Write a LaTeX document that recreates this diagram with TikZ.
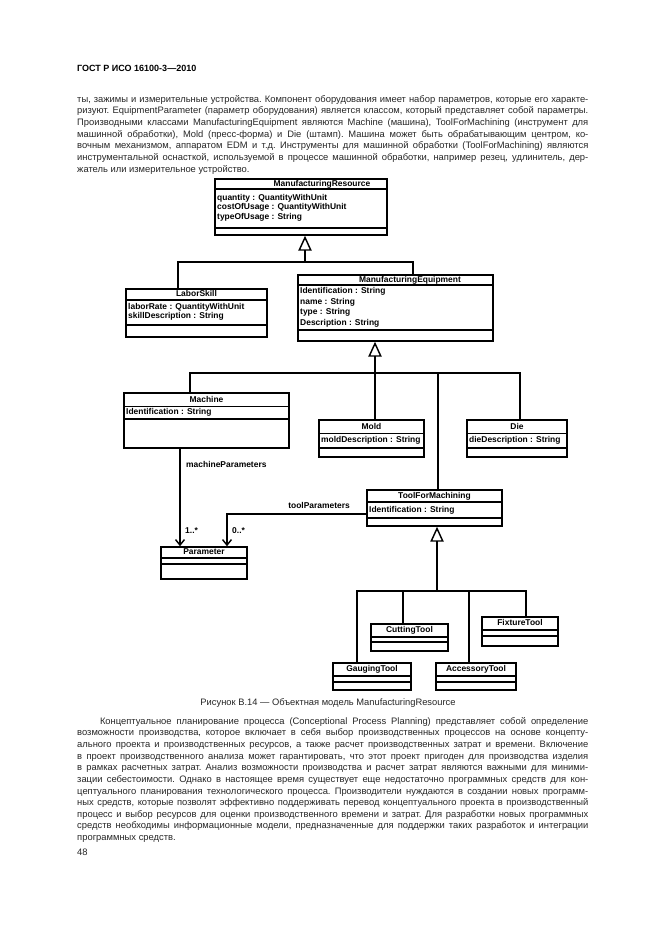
\documentclass[tikz,border=0pt]{standalone}
\usepackage{fontspec}
\setmainfont{Liberation Sans}
\usetikzlibrary{arrows.meta,fit}

\newcommand\umlfont{\fontsize{7.6}{8.5}\selectfont\bfseries}
\newcommand\txtline[1]{\par\frenchspacing\spaceskip=0pt\xspaceskip=0pt\hbox to 460pt{#1}}

\tikzset{
  classbox/.style={draw,line width=1.3pt,inner sep=0pt},
  classsep/.style={line width=1.1pt},
  classname/.style={font=\umlfont,inner sep=0pt,text height=5.5pt,text depth=1.5pt},
  classattr/.style={font=\umlfont,inner sep=0pt,anchor=north west,align=left},
  rolelabel/.style={font=\umlfont,inner sep=0pt,text height=5.5pt,text depth=1.5pt},
  inherit/.style={line width=1.3pt,arrows={Triangle[open,length=13.5pt,width=12pt]-}},
  genline/.style={line width=1.3pt},
  assoc/.style={line width=1.3pt,arrows={-Straight Barb[length=5pt,width=8pt]}},
  bodytext/.style={font=\fontsize{8.45}{10.45}\selectfont,inner sep=0pt,anchor=north west,
    text width=460pt,align=justify,text=black!85},
}

\begin{document}
\begin{tikzpicture}[x=0.9pt,y=-0.9pt]
  \fill[white] (0,0) rectangle (661,935);
  \useasboundingbox (0,0) rectangle (661,935);

  % page header and text above the figure
  \node[anchor=west,inner sep=0pt,font=\fontsize{8.1}{10}\selectfont\bfseries] (gost) at (77,68) {ГОСТ Р ИСО 16100-3—2010};
  \node[bodytext] (para1) at (77,90.5) {%
    \txtline{ты, зажимы и измерительные устройства. Компонент оборудования имеет набор параметров, которые его характе-}%
    \txtline{ризуют. EquipmentParameter (параметр оборудования) является классом, который представляет собой параметры.}%
    \txtline{Производными классами ManufacturingEquipment являются Machine (машина), ToolForMachining (инструмент для}%
    \txtline{машинной обработки), Mold (пресс-форма) и Die (штамп). Машина может быть обрабатывающим центром, ко-}%
    \txtline{вочным механизмом, аппаратом EDM и т.д. Инструменты для машинной обработки (ToolForMachining) являются}%
    \txtline{инструментальной оснасткой, используемой в процессе машинной обработки, например резец, удлинитель, дер-}%
    \par\hbox{жатель или измерительное устройство.}};

  % ManufacturingResource
  \node[classbox,fit={(215,179) (387,235)}] (mr) {};
  \node[classname] (mr-name) at (322,184) {ManufacturingResource};
  \draw[classsep] (mr.west |- 0,189) -- (mr.east |- 0,189);
  \node[classattr] (mr-attr) at (217,194) {quantity : QuantityWithUnit\\costOfUsage : QuantityWithUnit\\typeOfUsage : String};
  \draw[classsep] (mr.west |- 0,228) -- (mr.east |- 0,228);

  % LaborSkill
  \node[classbox,fit={(126,289) (267,337)}] (ls) {};
  \node[classname] (ls-name) at (196.5,294.5) {LaborSkill};
  \draw[classsep] (ls.west |- 0,300) -- (ls.east |- 0,300);
  \node[classattr] (ls-attr) at (128,303) {laborRate : QuantityWithUnit\\skillDescription : String};
  \draw[classsep] (ls.west |- 0,325) -- (ls.east |- 0,325);

  % ManufacturingEquipment
  \node[classbox,fit={(298,275) (493,341)}] (me) {};
  \node[classname] (me-name) at (410,280) {ManufacturingEquipment};
  \draw[classsep] (me.west |- 0,285) -- (me.east |- 0,285);
  \node[classattr,font=\fontsize{7.6}{9.4}\selectfont\bfseries] (me-attr) at (300,287.5) {Identification : String\\name : String\\type : String\\Description : String};
  \draw[classsep] (me.west |- 0,330) -- (me.east |- 0,330);

  % Machine
  \node[classbox,fit={(124,393) (289,448)}] (machine) {};
  \node[classname] (machine-name) at (206.5,400) {Machine};
  \draw[classsep] (machine.west |- 0,406.5) -- (machine.east |- 0,406.5);
  \node[classattr] (machine-attr) at (126,408.5) {Identification : String};
  \draw[classsep] (machine.west |- 0,419) -- (machine.east |- 0,419);

  % Mold
  \node[classbox,fit={(319,420) (424,457)}] (mold) {};
  \node[classname] (mold-name) at (371.5,427) {Mold};
  \draw[classsep] (mold.west |- 0,433.5) -- (mold.east |- 0,433.5);
  \node[classattr] (mold-attr) at (321,436.5) {moldDescription : String};
  \draw[classsep] (mold.west |- 0,448) -- (mold.east |- 0,448);

  % Die
  \node[classbox,fit={(467,420) (567,457)}] (die) {};
  \node[classname] (die-name) at (517,427) {Die};
  \draw[classsep] (die.west |- 0,433.5) -- (die.east |- 0,433.5);
  \node[classattr] (die-attr) at (469,436.5) {dieDescription : String};
  \draw[classsep] (die.west |- 0,448) -- (die.east |- 0,448);

  % ToolForMachining
  \node[classbox,fit={(367,490) (502,526)}] (tfm) {};
  \node[classname] (tfm-name) at (434.5,496) {ToolForMachining};
  \draw[classsep] (tfm.west |- 0,502) -- (tfm.east |- 0,502);
  \node[classattr] (tfm-attr) at (369,506) {Identification : String};
  \draw[classsep] (tfm.west |- 0,518) -- (tfm.east |- 0,518);

  % Parameter
  \node[classbox,fit={(161,547) (247,579)}] (param) {};
  \node[classname] (param-name) at (204,552.5) {Parameter};
  \draw[classsep] (param.west |- 0,558) -- (param.east |- 0,558);
  \draw[classsep] (param.west |- 0,564) -- (param.east |- 0,564);

  % tools
  \node[classbox,fit={(371,624) (448,651)}] (cutting) {};
  \node[classname] (cutting-name) at (409.5,630.5) {CuttingTool};
  \draw[classsep] (cutting.west |- 0,637) -- (cutting.east |- 0,637);
  \draw[classsep] (cutting.west |- 0,642) -- (cutting.east |- 0,642);

  \node[classbox,fit={(482,617) (558,646)}] (fixture) {};
  \node[classname] (fixture-name) at (520,623.5) {FixtureTool};
  \draw[classsep] (fixture.west |- 0,630) -- (fixture.east |- 0,630);
  \draw[classsep] (fixture.west |- 0,636) -- (fixture.east |- 0,636);

  \node[classbox,fit={(333,663) (411,690)}] (gauging) {};
  \node[classname] (gauging-name) at (372,669.5) {GaugingTool};
  \draw[classsep] (gauging.west |- 0,676) -- (gauging.east |- 0,676);
  \draw[classsep] (gauging.west |- 0,682) -- (gauging.east |- 0,682);

  \node[classbox,fit={(436,663) (516,690)}] (accessory) {};
  \node[classname] (accessory-name) at (476,669.5) {AccessoryTool};
  \draw[classsep] (accessory.west |- 0,676) -- (accessory.east |- 0,676);
  \draw[classsep] (accessory.west |- 0,682) -- (accessory.east |- 0,682);

  % generalisations
  \coordinate (gen1) at (305,262);
  \coordinate (bar1-l) at (178,262);
  \coordinate (bar1-r) at (413,262);
  \draw[inherit] (gen1 |- mr.south) -- (gen1);
  \draw[genline] (bar1-l |- ls.north) -- (bar1-l) -- (bar1-r) -- (bar1-r |- me.north);

  \coordinate (gen2) at (375,373);
  \coordinate (bar2-l) at (190,373);
  \coordinate (bar2-r) at (520,373);
  \coordinate (bar2-tfm) at (438,373);
  \draw[inherit] (gen2 |- me.south) -- (gen2 |- mold.north);
  \draw[genline] (bar2-l |- machine.north) -- (bar2-l) -- (bar2-r) -- (bar2-r |- die.north);
  \draw[genline] (bar2-tfm) -- (bar2-tfm |- tfm.north);

  \coordinate (gen3) at (437,591);
  \coordinate (bar3-l) at (357,591);
  \coordinate (bar3-r) at (526,591);
  \coordinate (bar3-ct) at (403,591);
  \coordinate (bar3-at) at (469,591);
  \draw[inherit] (gen3 |- tfm.south) -- (gen3);
  \draw[genline] (bar3-l |- gauging.north) -- (bar3-l) -- (bar3-r) -- (bar3-r |- fixture.north);
  \draw[genline] (bar3-ct) -- (bar3-ct |- cutting.north);
  \draw[genline] (bar3-at) -- (bar3-at |- accessory.north);

  % associations
  \coordinate (mp) at (180,500);
  \coordinate (tp) at (227,514);
  \draw[assoc] (mp |- machine.south) -- (mp |- param.north);
  \draw[assoc] (tfm.west |- tp) -- (tp) -- (tp |- param.north);
  \node[rolelabel,anchor=west] (mp-label) at (186,465) {machineParameters};
  \node[rolelabel,anchor=east] (tp-label) at (350,506) {toolParameters};
  \node[rolelabel,anchor=west] (mp-mult) at (185,531) {1..*};
  \node[rolelabel,anchor=west] (tp-mult) at (232,531) {0..*};

  % caption and text below
  \node[inner sep=0pt,font=\fontsize{8.4}{10}\selectfont,text=black!85] (caption) at (328,703) {Рисунок В.14 — Объектная модель ManufacturingResource};
  \node[bodytext] (para2) at (77,712.5) {%
    \txtline{\hspace*{20.5pt}Концептуальное планирование процесса (Conceptional Process Planning) представляет собой определение}%
    \txtline{возможности производства, которое включает в себя выбор производственных процессов на основе концепту-}%
    \txtline{ального проекта и производственных ресурсов, а также расчет производственных затрат и времени. Включение}%
    \txtline{в проект производственного анализа может гарантировать, что этот проект пригоден для производства изделия}%
    \txtline{в рамках расчетных затрат. Анализ возможности производства и расчет затрат являются важными для миними-}%
    \txtline{зации себестоимости. Однако в настоящее время существует еще недостаточно программных средств для кон-}%
    \txtline{цептуального планирования технологического процесса. Производители нуждаются в создании новых программ-}%
    \txtline{ных средств, которые позволят эффективно поддерживать перевод концептуального проекта в производственный}%
    \txtline{процесс и выбор ресурсов для оценки производственного времени и затрат. Для разработки новых программных}%
    \txtline{средств необходимы информационные модели, предназначенные для поддержки таких разработок и интеграции}%
    \par\hbox{программных средств.}};
  \node[anchor=west,inner sep=0pt,font=\fontsize{8.45}{10}\selectfont,text=black!85] (pageno) at (77,852) {48};
\end{tikzpicture}
\end{document}
